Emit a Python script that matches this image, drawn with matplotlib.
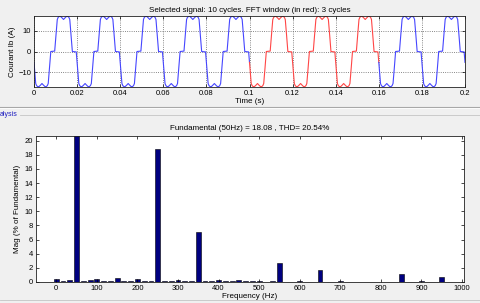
import numpy as np
import matplotlib.pyplot as plt
from matplotlib.lines import Line2D

cycle_t_ms = [0.0, 0.8, 1.2, 1.7, 2.3, 3.0, 3.7, 4.4, 5.1, 5.7, 6.2, 6.6, 7.2, 7.8, 9.6,
              10.2, 10.8, 11.2, 11.7, 12.3, 13.0, 13.7, 14.4, 15.1, 15.7, 16.2, 16.6,
              17.2, 17.8, 19.6]
cycle_amp = [-5.3, -15.6, -16.6, -17.1, -17.1, -16.4, -15.6, -16.4, -17.1, -17.1, -16.6, -15.6,
             -8.0, 0.0, 0.2, 8.0, 15.6, 16.6, 17.1, 17.1, 16.4, 15.6, 16.4, 17.1, 17.1, 16.6,
             15.6, 8.0, 0.0, -0.2]
n_cycles = 10
period_ms = 20.0
fft_start, fft_end = 0.10, 0.16

# spectrum bins (50/3 Hz resolution), magnitude in % of fundamental
bin_freq = [k * 50.0 / 3.0 for k in range(61)]
mag = [0.4, 0.2, 0.33, 100.0, 0.2, 0.22, 0.4, 0.2, 0.1, 0.6,
       0.2, 0.2, 0.4, 0.2, 0.2, 18.8, 0.2, 0.12, 0.35, 0.12,
       0.18, 7.1, 0.15, 0.15, 0.25, 0.08, 0.1, 0.25, 0.08, 0.1,
       0.15, 0.05, 0.08, 2.7, 0.05, 0.05, 0.12, 0.05, 0.05, 1.7,
       0.05, 0.05, 0.08, 0.05, 0.05, 0.06, 0.05, 0.05, 0.06, 0.05,
       0.05, 1.2, 0.05, 0.05, 0.1, 0.05, 0.05, 0.75, 0.05, 0.05,
       0.05]

sig_title = 'Selected signal: 10 cycles. FFT window (in red): 3 cycles'
fft_title = 'Fundamental (50Hz) = 18.08 , THD= 20.54%'

# build the full signal from the repeated cycle
t = np.concatenate([np.array(cycle_t_ms) + k * period_ms for k in range(n_cycles)] +
                   [[n_cycles * period_ms]]) / 1000.0
i_b = np.concatenate([cycle_amp] * n_cycles + [[cycle_amp[0]]])

plt.rcParams['font.family'] = ['Liberation Sans', 'DejaVu Sans']
plt.rcParams['font.size'] = 5.5
bg = '#f0f0f0'

fig = plt.figure(figsize=(4.8, 3.03), dpi=100, facecolor=bg)
W, H = 480.0, 303.0


def ax_rect(x0, y0, x1, y1):
    return [x0 / W, 1 - y1 / H, (x1 - x0) / W, (y1 - y0) / H]


def style_axes(ax):
    ax.tick_params(direction='in', length=2.5, width=0.5, top=True, right=True,
                   labelsize=5.5, pad=2)
    for s in ax.spines.values():
        s.set_linewidth(0.6)
        s.set_color('#202020')


# Step 1 : time signal
ax1 = fig.add_axes(ax_rect(34, 16, 465, 87))
before = t <= fft_start
inside = (t >= fft_start) & (t <= fft_end)
after = t >= fft_end
ax1.plot(t[before], i_b[before], color='#4646ff', lw=0.8)
ax1.plot(t[inside], i_b[inside], color='#ff4646', lw=0.8)
ax1.plot(t[after], i_b[after], color='#4646ff', lw=0.8)
ax1.set_xlim(0, 0.2)
ax1.set_ylim(-17.3, 17.3)
ax1.set_xticks(np.arange(0, 0.201, 0.02))
ax1.set_xticklabels(['0', '0.02', '0.04', '0.06', '0.08', '0.1', '0.12', '0.14',
                     '0.16', '0.18', '0.2'])
ax1.set_yticks([-10, 0, 10])
ax1.grid(True, linestyle=':', color='#606060', lw=0.6)
style_axes(ax1)
ax1.set_title(sig_title, fontsize=5.8, pad=3)
ax1.set_xlabel('Time (s)', fontsize=5.8, labelpad=1)
ax1.set_ylabel('Courant Ib (A)', fontsize=5.8, labelpad=2)

# Step 2 : panel separators
fig.add_artist(Line2D([0, 1], [1 - 107 / H] * 2, color='#a8a8a8', lw=0.8))
fig.add_artist(Line2D([0, 1], [1 - 108.5 / H] * 2, color='white', lw=0.6))
fig.add_artist(Line2D([20 / W, 1], [1 - 115 / H] * 2, color='#c4c4c4', lw=0.6))
fig.add_artist(Line2D([0, 1], [1 - 300 / H] * 2, color='#c4c4c4', lw=0.6))
fig.text(0 / W, 1 - 115 / H, 'alysis', color='#2020c0', fontsize=5, va='center', ha='left')

# Step 3 : spectrum
ax2 = fig.add_axes(ax_rect(36, 136, 464, 282))
ax2.bar(bin_freq, mag, width=12, color='#000080', edgecolor='black', lw=0.4)
ax2.set_xlim(-50, 1005)
ax2.set_ylim(0, 20.65)
ax2.set_xticks(np.arange(0, 1001, 100))
ax2.set_yticks(np.arange(0, 21, 2))
style_axes(ax2)
ax2.set_title(fft_title, fontsize=5.8, pad=4)
ax2.set_xlabel('Frequency (Hz)', fontsize=5.8, labelpad=1)
ax2.set_ylabel('Mag (% of Fundamental)', fontsize=5.8, labelpad=3)

fig.savefig('out.png', dpi=100, facecolor=bg)
